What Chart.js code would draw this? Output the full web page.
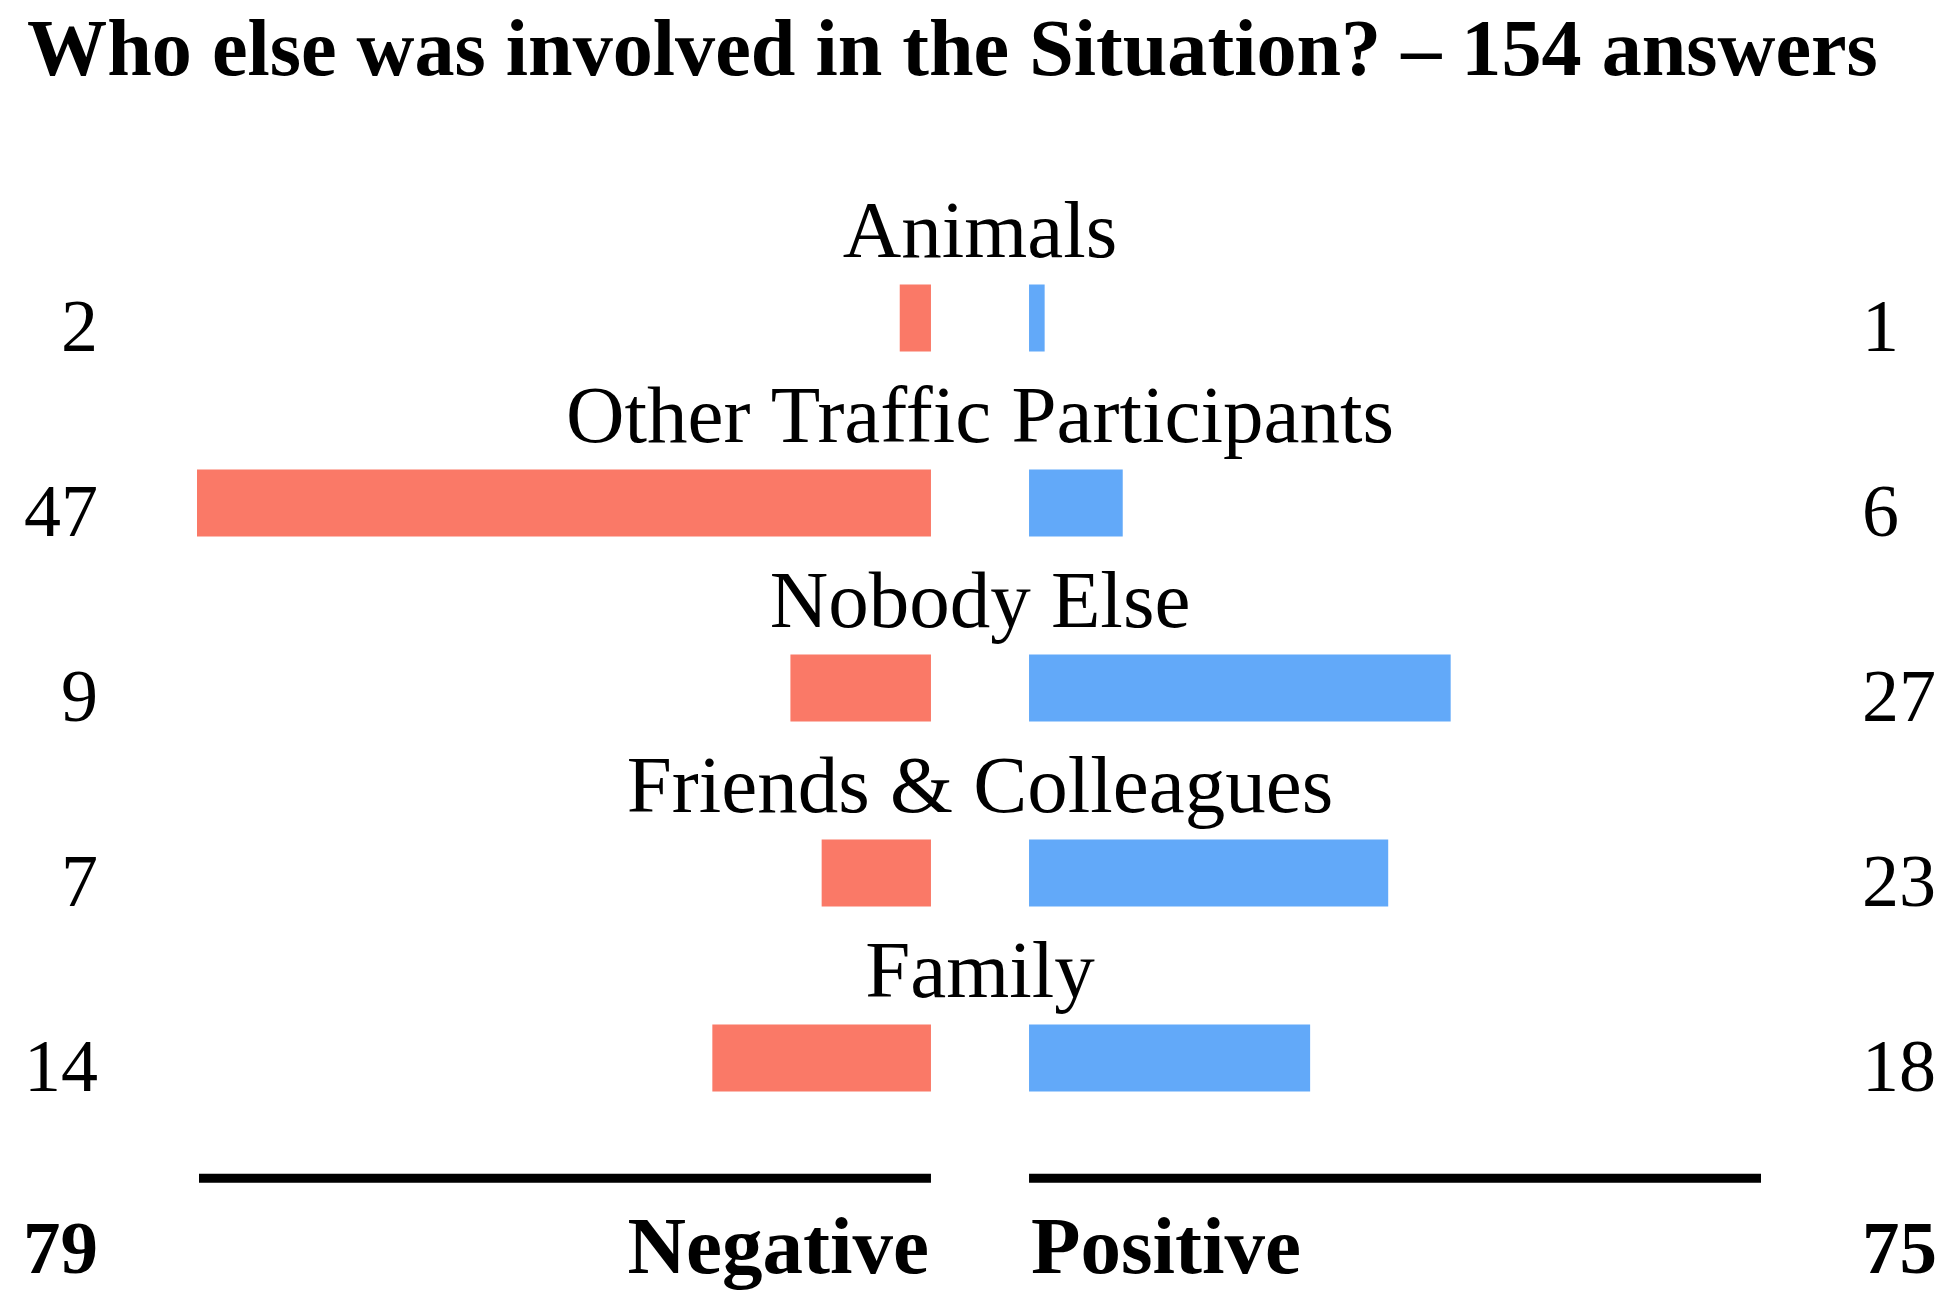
<!DOCTYPE html>
<html>
<head>
<meta charset="utf-8">
<script src="https://cdn.jsdelivr.net/npm/chart.js@4.4.1/dist/chart.umd.min.js"></script>
<style>
  html, body { margin: 0; padding: 0; background: #ffffff; }
  #wrap { width: 1953px; height: 1312px; }
</style>
</head>
<body>
<div id="wrap"><canvas id="c" width="1953" height="1312"></canvas></div>
<script>
// ---- data ----
const TITLE = "Who else was involved in the Situation? \u2013 154 answers";
const categories = ["Animals", "Other Traffic Participants", "Nobody Else", "Friends & Colleagues", "Family"];
const negativeValues = [2, 47, 9, 7, 14];
const positiveValues = [1, 6, 27, 23, 18];
const sideLabels = ["Negative", "Positive"];

// ---- style constants ----
const RED = "#FA7967";
const BLUE = "#62A9F9";
const FONT = "'Liberation Serif', 'Times New Roman', serif";
const GAP = 3.14; // half of the central gap, in value units
const AXIS_MAX = Math.max(...negativeValues, ...positiveValues);
const negTotal = negativeValues.reduce((a, b) => a + b, 0);
const posTotal = positiveValues.reduce((a, b) => a + b, 0);

const negData = negativeValues.map(v => [-(GAP + v), -GAP]);
const posData = positiveValues.map(v => [GAP, GAP + v]);

const textPlugin = {
  id: 'textPlugin',
  afterDraw(chart) {
    const ctx = chart.ctx;
    const x = chart.scales.x, y = chart.scales.y;
    const cx = x.getPixelForValue(0);
    const leftEdge = x.getPixelForValue(-(GAP + AXIS_MAX));
    const rightEdge = x.getPixelForValue(GAP + AXIS_MAX);
    const numRightX = leftEdge - 99;
    const numLeftX = rightEdge + 99;
    const band = y.getPixelForValue(1) - y.getPixelForValue(0);
    const halfBar = band * 0.181;
    ctx.save();
    ctx.fillStyle = '#000';
    ctx.textBaseline = 'alphabetic';

    // title, fitted to reference width
    let tSize = 80;
    ctx.font = `bold ${tSize}px ${FONT}`;
    const w = ctx.measureText(TITLE).width;
    tSize = tSize * 1851 / w;
    ctx.font = `bold ${tSize}px ${FONT}`;
    ctx.textAlign = 'left';
    ctx.fillText(TITLE, 27, 75);

    categories.forEach((cat, i) => {
      const yc = y.getPixelForValue(i);
      ctx.font = `81px ${FONT}`;
      ctx.textAlign = 'center';
      ctx.fillText(cat, cx, yc - halfBar - 28);
      ctx.font = `74px ${FONT}`;
      ctx.textAlign = 'right';
      ctx.fillText(String(negativeValues[i]), numRightX, yc + halfBar);
      ctx.textAlign = 'left';
      ctx.fillText(String(positiveValues[i]), numLeftX, yc + halfBar);
    });

    // axis lines
    const lastY = y.getPixelForValue(categories.length - 1);
    const lineY = lastY + band * 0.65;
    ctx.strokeStyle = '#000';
    ctx.lineWidth = 9;
    ctx.lineCap = 'butt';
    ctx.beginPath();
    ctx.moveTo(x.getPixelForValue(-(GAP + AXIS_MAX)) + 2, lineY);
    ctx.lineTo(x.getPixelForValue(-GAP), lineY);
    ctx.moveTo(x.getPixelForValue(GAP), lineY);
    ctx.lineTo(x.getPixelForValue(GAP + AXIS_MAX) - 2, lineY);
    ctx.stroke();

    // bottom labels
    const baseY = lastY + band * 1.163;
    ctx.font = `bold 75px ${FONT}`;
    ctx.textAlign = 'right';
    ctx.fillText(String(negTotal), numRightX, baseY);
    ctx.textAlign = 'left';
    ctx.fillText(String(posTotal), numLeftX, baseY);
    ctx.font = `bold 81px ${FONT}`;
    ctx.textAlign = 'right';
    ctx.fillText(sideLabels[0], x.getPixelForValue(-GAP) - 2, baseY);
    ctx.textAlign = 'left';
    ctx.fillText(sideLabels[1], x.getPixelForValue(GAP) + 2, baseY);
    ctx.restore();
  }
};

new Chart(document.getElementById('c'), {
  type: 'bar',
  data: {
    labels: categories,
    datasets: [
      { label: sideLabels[0], data: negData, backgroundColor: RED, grouped: false,
        categoryPercentage: 1, barPercentage: 0.362, borderWidth: 0, borderSkipped: false },
      { label: sideLabels[1], data: posData, backgroundColor: BLUE, grouped: false,
        categoryPercentage: 1, barPercentage: 0.362, borderWidth: 0, borderSkipped: false }
    ]
  },
  options: {
    indexAxis: 'y',
    responsive: false,
    animation: false,
    devicePixelRatio: 1,
    layout: { padding: { left: 197, right: 190, top: 225.5, bottom: 161.5 } },
    scales: {
      x: { type: 'linear', min: -(GAP + AXIS_MAX), max: GAP + AXIS_MAX, display: false },
      y: { type: 'category', display: false }
    },
    plugins: {
      legend: { display: false },
      tooltip: { enabled: false },
      title: { display: false }
    }
  },
  plugins: [textPlugin]
});
</script>
</body>
</html>
